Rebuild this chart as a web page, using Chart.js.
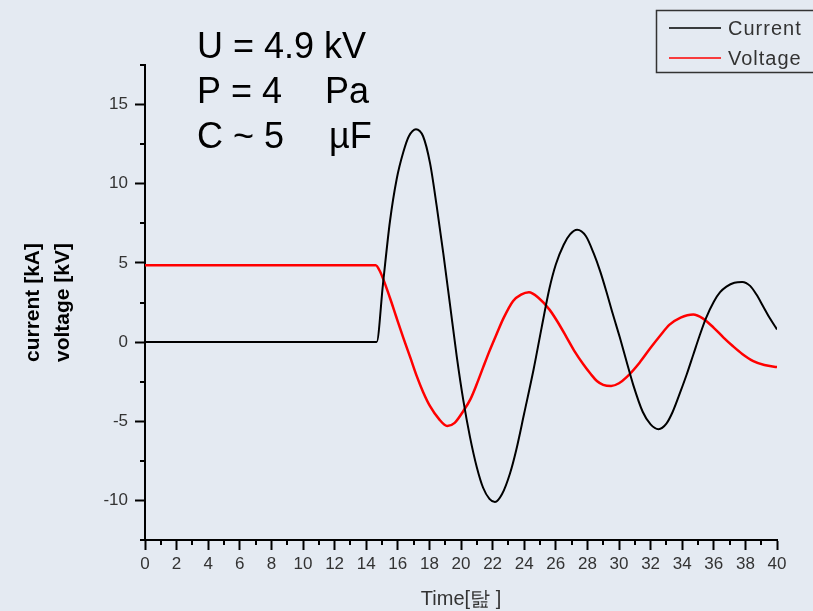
<!DOCTYPE html>
<html>
<head>
<meta charset="utf-8">
<script src="https://cdn.jsdelivr.net/npm/chart.js@4.4.0/dist/chart.umd.min.js"></script>
<style>
  html, body { margin: 0; padding: 0; background: #e4eaf2; }
  canvas { display: block; background: #e4eaf2; }
</style>
</head>
<body>
<canvas id="chart" width="813" height="611"></canvas>
<script>
// time [µs] and values
const currentTime = [0, 14.66, 15.06, 15.5, 15.93, 16.35, 16.7, 17.15, 17.6, 18.04, 18.46, 18.88, 19.3, 19.73,
  20.15, 20.57, 21.0, 21.4, 21.8, 22.15, 22.6, 23.1, 23.5, 24.0, 24.6, 25.1, 25.6, 26.0, 26.5, 26.9, 27.35,
  27.9, 28.4, 28.8, 29.2, 29.6, 30.05, 30.5, 30.9, 31.5, 32.0, 32.5, 33.0, 33.4, 33.9, 34.3, 34.7, 35.1,
  35.5, 36.0, 36.4, 36.8, 37.3, 37.8, 38.3, 38.7, 39.1, 39.55, 40.0];
const currentKA = [0, 0, 3.65, 7.6, 10.3, 12.0, 13.0, 13.45, 13.0, 11.3, 8.6, 5.6, 2.4, -0.9,
  -3.7, -6.0, -7.9, -9.2, -9.9, -10.1, -9.6, -8.3, -6.8, -4.5, -1.7, 0.9, 3.4, 4.9, 6.15, 6.8, 7.1,
  6.7, 5.6, 4.5, 3.2, 1.8, 0.3, -1.3, -2.7, -4.4, -5.2, -5.5, -5.15, -4.4, -3.1, -2.0, -0.8, 0.4,
  1.5, 2.55, 3.15, 3.5, 3.75, 3.8, 3.55, 3.0, 2.3, 1.5, 0.8];

const voltageTime = [0, 14.6, 14.87, 15.5, 15.9, 16.35, 16.8, 17.2, 17.6, 18.04, 18.6, 19.13, 19.6, 20.15,
  20.6, 21.0, 21.4, 21.8, 22.25, 22.7, 23.3, 23.8, 24.3, 24.9, 25.6, 26.1, 26.7, 27.2, 27.74, 28.2, 28.6,
  29.0, 29.5, 30.0, 30.5, 31.3, 32.0, 32.6, 33.2, 33.9, 34.7, 35.3, 36.0, 36.6, 37.2, 37.8, 38.5, 39.2,
  39.9, 40.0];
const voltageKV = [4.85, 4.85, 4.47, 2.8, 1.6, 0.27, -1.0, -2.15, -3.15, -4.05, -4.85, -5.3, -5.1, -4.35,
  -3.6, -2.65, -1.6, -0.57, 0.5, 1.53, 2.6, 3.0, 3.15, 2.8, 2.05, 1.3, 0.27, -0.6, -1.4, -2.0, -2.46,
  -2.7, -2.77, -2.6, -2.2, -1.3, -0.36, 0.4, 1.1, 1.55, 1.75, 1.5, 0.9, 0.3, -0.25, -0.75, -1.2, -1.45,
  -1.57, -1.58];

const seriesNames = ['Current', 'Voltage'];
const seriesColors = ['#000000', '#ff0000'];
const yTicks = [-10, -5, 0, 5, 10, 15];
const yMinorTicks = [-12.5, -7.5, -2.5, 2.5, 7.5, 12.5, 17.5];
const xTicks = [0, 2, 4, 6, 8, 10, 12, 14, 16, 18, 20, 22, 24, 26, 28, 30, 32, 34, 36, 38, 40];
const xMinorTicks = [1, 3, 5, 7, 9, 11, 13, 15, 17, 19, 21, 23, 25, 27, 29, 31, 33, 35, 37, 39];
const infoLeft = ['U = 4.9 kV', 'P = 4', 'C ~ 5'];
const infoRight = ['', 'Pa', '\u00b5F'];

const toPoints = (xs, ys) => xs.map((x, i) => ({ x: x, y: ys[i] }));

// minor ticks (Chart.js has none) drawn through the scales
const minorTicks = {
  id: 'minorTicks',
  afterDraw(chart) {
    const { ctx, scales: { x, y }, chartArea } = chart;
    ctx.save();
    ctx.strokeStyle = '#000';
    ctx.lineWidth = 2;
    yMinorTicks.forEach(v => {
      const py = Math.round(y.getPixelForValue(v));
      ctx.beginPath();
      ctx.moveTo(chartArea.left, py);
      ctx.lineTo(chartArea.left - 5, py);
      ctx.stroke();
    });
    xMinorTicks.forEach(v => {
      const px = Math.round(x.getPixelForValue(v));
      ctx.beginPath();
      ctx.moveTo(px, chartArea.bottom);
      ctx.lineTo(px, chartArea.bottom + 5);
      ctx.stroke();
    });
    ctx.restore();
  }
};

// boxed legend and the parameter text
const overlay = {
  id: 'overlay',
  afterDraw(chart) {
    const ctx = chart.ctx;
    ctx.save();
    ctx.strokeStyle = '#333';
    ctx.lineWidth = 1.5;
    ctx.strokeRect(656.5, 10.5, 170, 62);
    ctx.font = '20px "Liberation Sans", Arial, sans-serif';
    ctx.letterSpacing = '1px';
    ctx.textBaseline = 'middle';
    chart.data.datasets.forEach((ds, i) => {
      const yy = 28 + i * 30;
      ctx.strokeStyle = ds.borderColor;
      ctx.lineWidth = 1.5;
      ctx.beginPath();
      ctx.moveTo(669, yy);
      ctx.lineTo(721, yy);
      ctx.stroke();
      ctx.fillStyle = '#333';
      ctx.fillText(ds.label, 728, yy + 1);
    });
    ctx.letterSpacing = '0px';
    ctx.font = '36px "Liberation Sans", Arial, sans-serif';
    ctx.fillStyle = '#000';
    ctx.textBaseline = 'alphabetic';
    infoLeft.forEach((t, i) => {
      ctx.fillText(t, 197, 58 + i * 45);
      if (infoRight[i]) ctx.fillText(infoRight[i], i === 1 ? 325 : 329, 58 + i * 45);
    });
    ctx.restore();
  }
};

const tickFont = { family: '"Liberation Sans", Arial, sans-serif', size: 17 };

new Chart(document.getElementById('chart'), {
  type: 'line',
  data: {
    datasets: [
      {
        label: seriesNames[0],
        data: toPoints(currentTime, currentKA),
        borderColor: seriesColors[0],
        borderWidth: 2,
        pointRadius: 0,
        cubicInterpolationMode: 'monotone'
      },
      {
        label: seriesNames[1],
        data: toPoints(voltageTime, voltageKV),
        borderColor: seriesColors[1],
        borderWidth: 2.5,
        pointRadius: 0,
        cubicInterpolationMode: 'monotone'
      }
    ]
  },
  options: {
    responsive: false,
    animation: false,
    devicePixelRatio: 1,
    layout: { padding: { left: 0, top: 65, right: 36, bottom: 0 } },
    plugins: { legend: { display: false }, tooltip: { enabled: false } },
    scales: {
      x: {
        type: 'linear',
        min: 0,
        max: 40,
        afterFit: s => { s.height = 71; },
        afterBuildTicks: s => { s.ticks = xTicks.map(v => ({ value: v })); },
        ticks: { color: '#333', font: tickFont, padding: 4, maxRotation: 0, autoSkip: false },
        grid: { drawOnChartArea: false, drawTicks: true, tickLength: 10, tickColor: '#000', tickWidth: 2 },
        border: { display: true, color: '#000', width: 2 },
        title: {
          display: true,
          text: 'Time[\uD0CE ]',
          color: '#333',
          font: { family: '"Liberation Sans", Arial, sans-serif', size: 20, lineHeight: 1.0 },
          padding: { top: 0, bottom: 2 }
        }
      },
      y: {
        min: -12.5,
        max: 17.5,
        afterFit: s => { s.width = 145; },
        afterBuildTicks: s => { s.ticks = yTicks.map(v => ({ value: v })); },
        ticks: { color: '#333', font: tickFont, padding: 7 },
        grid: { drawOnChartArea: false, drawTicks: true, tickLength: 10, tickColor: '#000', tickWidth: 2 },
        border: { display: true, color: '#000', width: 2 },
        title: {
          display: true,
          text: ['current [kA]', 'voltage [kV]'],
          color: '#000',
          font: { family: '"Liberation Sans", Arial, sans-serif', size: 21, weight: 'bold', lineHeight: 1.45 },
          padding: { top: 18, bottom: 0 }
        }
      }
    }
  },
  plugins: [minorTicks, overlay]
});
</script>
</body>
</html>
